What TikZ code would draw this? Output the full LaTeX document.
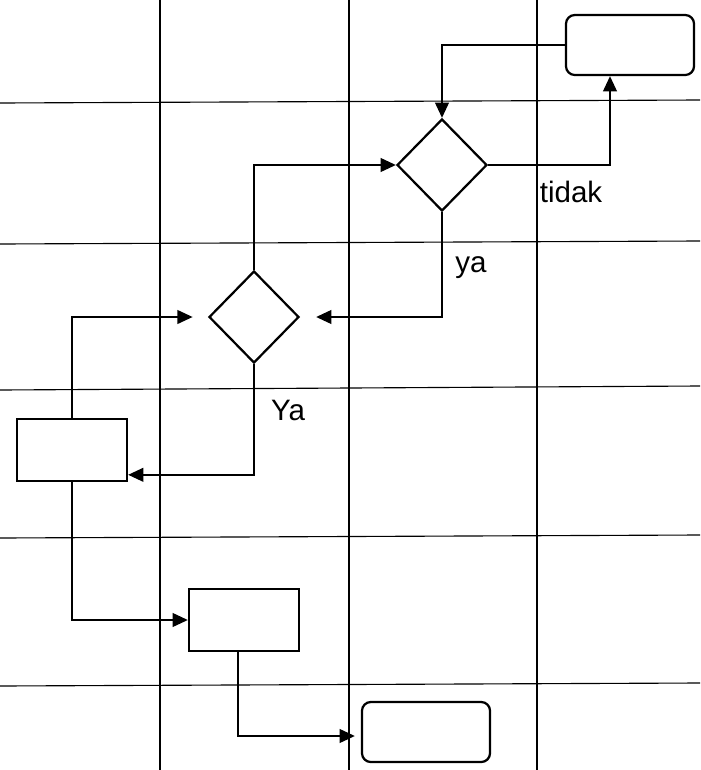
\documentclass[tikz,border=0pt]{standalone}
\usepackage{fontspec}
\setmainfont{Liberation Sans}
\usetikzlibrary{shapes.geometric,arrows.meta}

\tikzset{
  kotak/.style={draw,line width=1.6pt,minimum width=2.75cm,minimum height=1.55cm,inner sep=0pt},
  ujung/.style={draw,line width=1.6pt,rounded corners=0.22cm,minimum width=3.2cm,minimum height=1.5cm,inner sep=0pt},
  pilih/.style={draw,diamond,line width=1.6pt,minimum width=2.25cm,minimum height=2.3cm,inner sep=0pt},
  alur/.style={line width=1.5pt,-{Triangle[length=0.38cm,width=0.34cm]}},
  teks/.style={font=\fontsize{21}{25}\selectfont,inner sep=0pt}
}

\begin{document}
\begin{tikzpicture}[x=0.025cm,y=-0.025cm]
\useasboundingbox (0,0) rectangle (700,770);
% garis tabel
\draw[line width=0.8pt] (160,0) -- (160,770);
\draw[line width=0.8pt] (349,0) -- (349,770);
\draw[line width=0.8pt] (537,0) -- (537,770);
\draw[line width=0.8pt] (0,103) -- (700,100);
\draw[line width=0.8pt] (0,244) -- (700,241);
\draw[line width=0.8pt] (0,390) -- (700,386);
\draw[line width=0.8pt] (0,538) -- (700,535);
\draw[line width=0.8pt] (0,686) -- (700,683);

\node[ujung] (atas) at (630,45) {};
\node[pilih] (cek1) at (442,165) {};
\node[pilih] (cek2) at (254,317) {};
\node[kotak] (proses1) at (72,450) {};
\node[kotak] (proses2) at (244,620) {};
\node[ujung] (akhir) at (426,732) {};

\draw[alur] (atas.west) -| (cek1.north);
\draw[alur] (cek1.east) -| ([xshift=-0.5cm]atas.south);
\draw[alur] (cek2.north) |- (cek1.west);
\draw[alur,shorten >=0.4cm] (cek1.south) |- (cek2.east);
\draw[alur,shorten >=0.38cm] (proses1.north) |- (cek2.west);
\draw[alur] (cek2.south) |- ([yshift=-0.62cm]proses1.east);
\draw[alur] (proses1.south) |- (proses2.west);
\draw[alur,shorten >=0.15cm] ([xshift=-0.15cm]proses2.south) |- ([yshift=-0.1cm]akhir.west);

\node[teks] (lbl1) at (571,192) {tidak};
\node[teks] (lbl2) at (471,268) {ya};
\node[teks] (lbl3) at (288,410) {Ya};
\end{tikzpicture}
\end{document}
